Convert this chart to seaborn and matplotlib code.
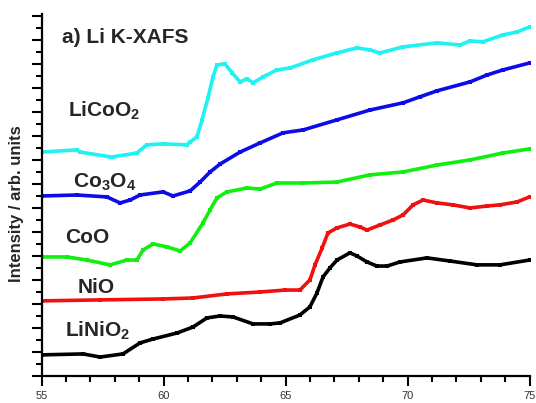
import numpy as np
import pandas as pd
import matplotlib
matplotlib.use("Agg")
import matplotlib.pyplot as plt
from matplotlib.ticker import MultipleLocator
import seaborn as sns

# Photon energy (eV) and offset intensities
licoo2_x = [55.02, 56.45, 56.58, 57.81, 57.93, 58.91, 59.32, 59.98, 60.96, 61.09, 61.37, 61.58,
            61.82, 62.03, 62.19, 62.52, 62.81, 63.14, 63.42, 63.67, 64.08, 64.65, 65.18, 66.13,
            67.11, 67.93, 68.46, 68.87, 69.82, 71.21, 72.15, 72.56, 73.09, 73.91, 74.49, 75.0]
licoo2_y = [9.33, 9.42, 9.33, 9.13, 9.13, 9.29, 9.63, 9.67, 9.63, 9.75, 9.96, 10.67,
            11.58, 12.46, 12.96, 13.0, 12.63, 12.25, 12.38, 12.21, 12.46, 12.75, 12.83, 13.17,
            13.46, 13.67, 13.58, 13.46, 13.71, 13.88, 13.79, 13.96, 13.92, 14.21, 14.33, 14.54]

co3o4_x = [55.02, 56.45, 57.68, 58.22, 58.63, 59.04, 59.98, 60.39, 61.09, 61.50, 61.91, 62.32,
           63.14, 63.96, 64.90, 65.72, 67.11, 68.46, 69.82, 70.51, 71.21, 72.56, 73.26, 73.91, 75.0]
co3o4_y = [7.50, 7.54, 7.46, 7.21, 7.33, 7.54, 7.67, 7.50, 7.71, 8.08, 8.50, 8.83,
           9.33, 9.71, 10.13, 10.25, 10.67, 11.08, 11.38, 11.63, 11.88, 12.25, 12.54, 12.75, 13.04]

coo_x = [55.02, 56.05, 56.86, 57.81, 58.50, 58.91, 59.16, 59.57, 60.14, 60.68, 61.09, 61.62, 61.91,
         62.19, 62.60, 63.42, 63.96, 64.65, 65.72, 67.11, 68.46, 69.82, 71.21, 72.56, 73.91, 75.0]
coo_y = [4.96, 4.96, 4.83, 4.63, 4.83, 4.83, 5.25, 5.50, 5.38, 5.21, 5.54, 6.38, 6.92,
         7.42, 7.67, 7.83, 7.79, 8.04, 8.04, 8.08, 8.38, 8.50, 8.79, 9.00, 9.29, 9.46]

nio_x = [55.02, 57.40, 59.98, 61.21, 62.60, 63.96, 64.98, 65.59, 66.00, 66.21, 66.50, 66.74, 67.11,
         67.64, 68.05, 68.34, 68.87, 69.41, 69.82, 70.23, 70.64, 71.21, 71.86, 72.56, 73.26, 73.79,
         74.49, 75.0]
nio_y = [3.13, 3.17, 3.21, 3.25, 3.42, 3.50, 3.58, 3.58, 4.00, 4.63, 5.33, 5.96, 6.17,
         6.33, 6.21, 6.08, 6.29, 6.50, 6.71, 7.13, 7.33, 7.21, 7.13, 7.00, 7.08, 7.13,
         7.25, 7.46]

linio2_x = [55.02, 56.70, 57.40, 58.34, 59.04, 59.57, 60.55, 61.21, 61.78, 62.32, 62.85, 63.67,
            64.36, 64.77, 65.59, 66.00, 66.29, 66.54, 66.82, 67.11, 67.64, 67.93, 68.34, 68.75,
            69.16, 69.69, 70.80, 71.74, 72.85, 73.79, 75.0]
linio2_y = [0.88, 0.92, 0.79, 0.92, 1.38, 1.54, 1.79, 2.04, 2.42, 2.50, 2.46, 2.17,
            2.17, 2.21, 2.54, 2.88, 3.46, 4.13, 4.50, 4.83, 5.13, 5.00, 4.75, 4.58,
            4.58, 4.75, 4.92, 4.79, 4.63, 4.63, 4.83]

sns.set_style("ticks")
plt.rcParams['font.family'] = ['Liberation Sans', 'DejaVu Sans']
plt.rcParams['mathtext.fontset'] = 'custom'
plt.rcParams['mathtext.rm'] = 'Liberation Sans:bold'
plt.rcParams['mathtext.default'] = 'rm'

fig = plt.figure(figsize=(5.36, 4.03), dpi=100)
ax = fig.add_axes([41.5 / 536, 1 - 376 / 403, 488 / 536, 362 / 403])

series = [
    (licoo2_x, licoo2_y, '#1ef2f2'),
    (co3o4_x, co3o4_y, '#0c0ce8'),
    (coo_x, coo_y, '#10f010'),
    (nio_x, nio_y, '#f01010'),
    (linio2_x, linio2_y, '#000000'),
]
for xs, ys, col in series:
    df = pd.DataFrame({'E': xs, 'I': ys})
    sns.lineplot(data=df, x='E', y='I', color=col, lw=2.6, marker='s', markersize=2.5,
                 markeredgewidth=0, ax=ax)

ax.set_xlim(55, 75)
ax.set_ylim(0, 15.08)
ax.xaxis.set_major_locator(MultipleLocator(5))
ax.xaxis.set_minor_locator(MultipleLocator(1))
ax.yaxis.set_major_locator(MultipleLocator(1))
ax.yaxis.set_minor_locator(MultipleLocator(0.5))
ax.set_yticklabels([])
ax.tick_params(axis='both', which='major', direction='out', length=7, width=1.5, color='black')
ax.tick_params(axis='both', which='minor', direction='out', length=4, width=1.5, color='black')
ax.tick_params(axis='x', which='major', labelsize=8, labelcolor='#333333', pad=4)
for s in ['left', 'bottom']:
    ax.spines[s].set_linewidth(1.6)
    ax.spines[s].set_color('black')
sns.despine(ax=ax)

ax.set_xlabel('')
ax.set_ylabel('Intensity / arb. units', fontsize=12, fontweight='bold')
ax.yaxis.set_label_coords(-0.036, 0.475)

ax.text(55.84, 13.88, 'a) Li K-XAFS', fontsize=15, fontweight='bold', va='baseline')
labels = [
    (56.09, 10.79, 'LiCoO$_2$'),
    (56.29, 7.83, 'Co$_3$O$_4$'),
    (55.96, 5.54, 'CoO'),
    (56.50, 3.46, 'NiO'),
    (55.96, 1.63, 'LiNiO$_2$'),
]
for tx, ty, t in labels:
    ax.text(tx, ty, t, fontsize=15, fontweight='bold', va='baseline')

fig.savefig('out.png', dpi=100)
